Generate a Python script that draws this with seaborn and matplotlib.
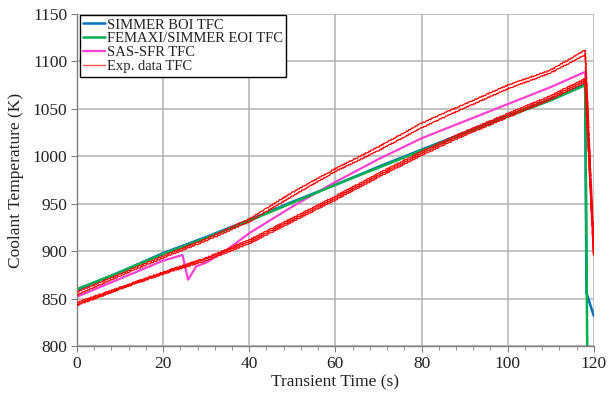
import seaborn as sns
import matplotlib.pyplot as plt
from matplotlib.ticker import MultipleLocator

# --- data ---
t_sim = [0, 10, 20, 30, 40, 50, 60, 70, 80, 90, 100, 110, 118]
simmer_boi = [859, 878, 898, 915, 933, 952, 970, 989, 1007, 1025, 1043, 1060, 1076]
femaxi_eoi = [860, 878, 897, 914, 932, 951, 970, 988, 1006, 1024, 1042, 1059, 1075]

# end of transient (fast drop)
t_boi_end = [118.3, 120]
boi_end = [856, 832]
t_eoi_end = [118.5]
eoi_end = [790]

t_sas = [0, 10, 20, 24.5, 25.8, 27.7, 30, 35, 40, 50, 60, 70, 80, 90, 100, 110, 118, 120]
sas_sfr = [852, 871, 890, 896, 870, 884, 888, 902, 919, 947, 973, 997, 1019, 1037, 1055, 1073, 1089, 903]

t_exp = [0, 10, 20, 30, 40, 50, 60, 70, 80, 90, 100, 110, 118, 120]
exp_tc1 = [857, 876, 895, 913, 934, 962, 987, 1010, 1035, 1055, 1075, 1091, 1112, 905]
exp_tc2 = [854, 874, 893, 911, 931, 958, 984, 1006, 1030, 1051, 1071, 1088, 1107, 900]
exp_tc3 = [846, 862, 878, 893, 912, 935, 958, 982, 1005, 1026, 1045, 1064, 1082, 898]
exp_tc4 = [844, 861, 877, 892, 910, 933, 956, 980, 1003, 1024, 1043, 1062, 1080, 897]
exp_tc5 = [843, 860, 876, 890, 908, 931, 954, 978, 1001, 1022, 1041, 1060, 1078, 895]

sns.set_style('ticks')
plt.rcParams['font.family'] = ['Liberation Serif', 'DejaVu Serif']

fig = plt.figure(figsize=(6.08, 4.01), dpi=100)
ax = fig.add_axes([0.1266, 0.137, 0.85, 0.828])

c_boi = '#0070C0'
c_eoi = '#00B050'
c_sas = '#FF40D0'
c_exp = '#FF0000'

# experimental thermocouples (thin, noisy look via sketch style)
for i, tc in enumerate([exp_tc1, exp_tc2, exp_tc3, exp_tc4, exp_tc5]):
    sns.lineplot(x=t_exp, y=tc, ax=ax, color=c_exp, linewidth=0.9, sort=False,
                 label='Exp. data TFC' if i == 0 else None, zorder=3)
    ax.lines[-1].set_sketch_params(scale=0.6, length=3, randomness=2)

sns.lineplot(x=t_sas, y=sas_sfr, ax=ax, color=c_sas, linewidth=1.6, sort=False,
             label='SAS-SFR TFC', zorder=2)
sns.lineplot(x=t_sim + t_eoi_end, y=femaxi_eoi + eoi_end, ax=ax, color=c_eoi,
             linewidth=1.8, sort=False, label='FEMAXI/SIMMER EOI TFC', zorder=2)
sns.lineplot(x=t_sim + t_boi_end, y=simmer_boi + boi_end, ax=ax, color=c_boi,
             linewidth=1.8, sort=False, label='SIMMER BOI TFC', zorder=1.9)

ax.set_xlim(0, 120)
ax.set_ylim(800, 1150)
ax.xaxis.set_major_locator(MultipleLocator(20))
ax.xaxis.set_minor_locator(MultipleLocator(4))
ax.yaxis.set_major_locator(MultipleLocator(50))
ax.grid(True, which='major', color='#b8b8b8', linewidth=1.2)
ax.set_axisbelow(True)

for side in ['top', 'right']:
    ax.spines[side].set_visible(False)
for side in ['left', 'bottom']:
    ax.spines[side].set_color('#7f7f7f')
    ax.spines[side].set_linewidth(1.0)

ax.tick_params(axis='both', which='major', labelsize=12.5, length=4, color='#7f7f7f',
               labelcolor='#222222', direction='out', pad=3)
ax.tick_params(axis='x', which='minor', length=3, color='#7f7f7f', direction='out')
ax.set_xlabel('Transient Time (s)', fontsize=12.5, labelpad=2, color='#222222')
ax.set_ylabel('Coolant Temperature (K)', fontsize=12.5, labelpad=6, color='#222222')

# legend in the order of the reference
handles, labels = ax.get_legend_handles_labels()
order = ['SIMMER BOI TFC', 'FEMAXI/SIMMER EOI TFC', 'SAS-SFR TFC', 'Exp. data TFC']
hmap = dict(zip(labels, handles))
leg = ax.legend([hmap[k] for k in order], order, loc='upper left',
                bbox_to_anchor=(0.005, 0.998), borderaxespad=0, fontsize=10.5,
                frameon=True, fancybox=False, framealpha=1, edgecolor='black',
                handlelength=1.5, handletextpad=0.1, borderpad=0.25,
                labelspacing=0.05)
leg.get_frame().set_linewidth(1.0)
for text in leg.get_texts():
    text.set_color('#222222')
for line in leg.get_lines():
    line.set_sketch_params(None)
leg.get_lines()[-1].set_color('#FF5050')
leg.get_lines()[-1].set_linewidth(1.0)

fig.savefig('out.png', dpi=100)
